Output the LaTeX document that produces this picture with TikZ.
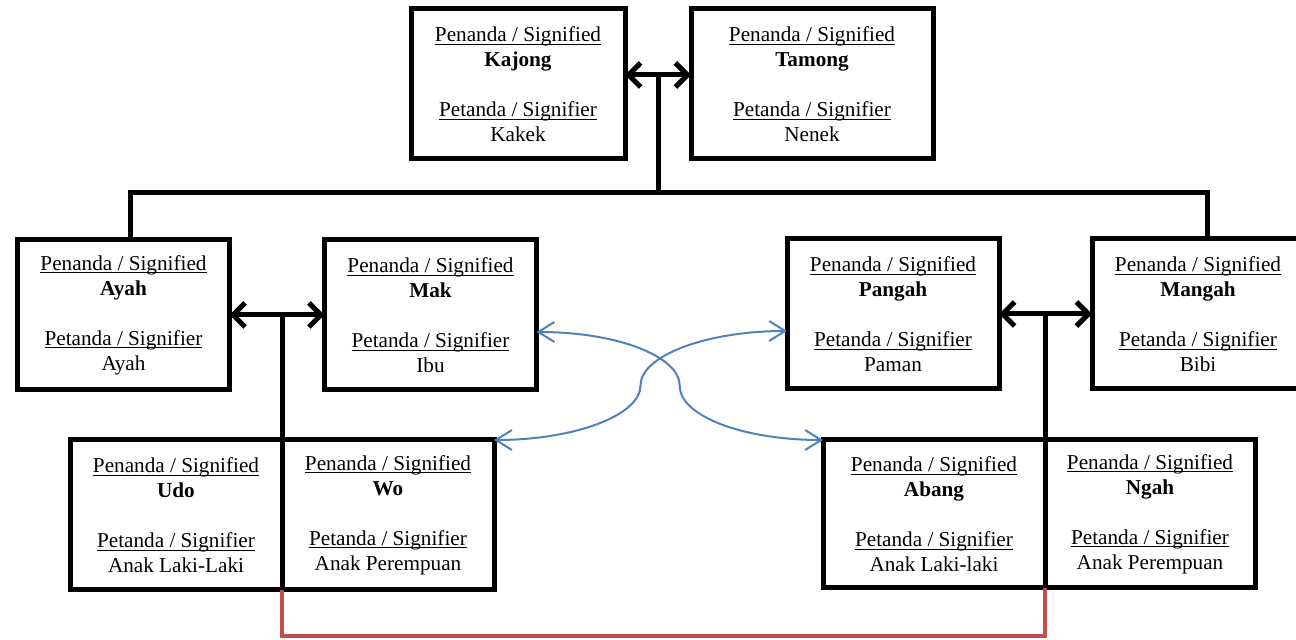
\documentclass[tikz,border=0pt]{standalone}
\usepackage{fontspec}
\setmainfont{Liberation Serif}
\usepackage{xcolor}
\usetikzlibrary{positioning,arrows.meta,calc}

\definecolor{kinblue}{HTML}{4F81BD}
\definecolor{kinred}{HTML}{C0504D}
\newcommand{\sigul}[1]{\setbox0\hbox{#1}\rlap{\rule[-1.6pt]{\wd0}{0.5pt}}\box0}
\newcommand{\sigtext}[2]{\sigul{Penanda / Signified}\\\textbf{#1}\\[12.5pt]\sigul{Petanda / Signifier}\\#2}

\begin{document}
\begin{tikzpicture}[sig node/.style={rectangle,draw,line width=2.5pt,minimum width=106pt,minimum height=75pt,inner sep=0pt,outer sep=0pt,align=center,font=\fontsize{10.6}{12.5}\selectfont},couple/.style={line width=2.5pt,>={Straight Barb[length=6pt,width=12pt]},<->},bond/.style={line width=2.5pt,line join=miter},kin/.style={draw=kinblue,line width=1pt,>={Straight Barb[length=8pt,width=10pt]},<->},sibling/.style={draw=kinred,line width=2pt,line join=miter}]
            \clip (0,0) rectangle (648pt,-320pt);

            \node[sig node,minimum width=107pt] (kajong) at (259pt,-42pt) {\sigtext{Kajong}{Kakek}};
            \node[sig node,minimum width=121pt] (tamong) [right=33pt of kajong] {\sigtext{Tamong}{Nenek}};

            \node[sig node] (ayah) at (61.75pt,-157.5pt) {\sigtext{Ayah}{Ayah}};
            \node[sig node] (mak) [right=47.5pt of ayah] {\sigtext{Mak}{Ibu}};
            \node[sig node] (pangah) at (446.5pt,-157pt) {\sigtext{Pangah}{Paman}};
            \node[sig node] (mangah) [right=46.5pt of pangah] {\sigtext{Mangah}{Bibi}};

            \node[sig node] (udo) at (88pt,-257.5pt) {\sigtext{Udo}{Anak Laki-Laki}};
            \node[sig node] (wo) [right=0pt of udo] {\sigtext{Wo}{Anak Perempuan}};
            \node[sig node,minimum width=111pt,minimum height=74pt] (abang) at (467pt,-257pt) {\sigtext{Abang}{Anak Laki-laki}};
            \node[sig node,minimum width=105pt,minimum height=74pt] (ngah) [right=0pt of abang] {\sigtext{Ngah}{Anak Perempuan}};

            \coordinate (bar) at (0,-96.5pt);
            \draw[couple] ([yshift=4.5pt]kajong.east) -- ([yshift=4.5pt]tamong.west) coordinate[midway] (top);
            \draw[bond] (top) -- (top |- bar);
            \draw[bond] ([xshift=3.25pt]ayah.north) -- ([xshift=3.25pt]ayah.north |- bar) -- ([xshift=4.5pt]mangah.north |- bar) -- ([xshift=4.5pt]mangah.north);

            \draw[couple] (ayah.east) -- (ayah.east -| mak.west);
            \draw[bond] (udo.north east) -- (udo.north east |- ayah.east);
            \draw[couple] (pangah.east) -- (pangah.east -| mangah.west);
            \draw[bond] (abang.north east) -- (abang.north east |- pangah.east);

            \draw[sibling] (udo.south east) -- ++(0,-23pt) -| (abang.south east);

            \coordinate (ibu) at ([yshift=-8.5pt]mak.east);
            \coordinate (paman) at ([yshift=-8.5pt]pangah.west);
            \coordinate (m1) at ($(ibu)!0.5!(abang.north west)$);
            \coordinate (m2) at ($(paman)!0.5!(wo.north east)$);
            \draw[kin] (ibu) .. controls +(40pt,0) and +(0,15pt) .. (m1) .. controls +(0,-15pt) and +(-40pt,0) .. (abang.north west);
            \draw[kin] (paman) .. controls +(-40pt,0) and +(0,15pt) .. (m2) .. controls +(0,-15pt) and +(40pt,0) .. (wo.north east);
        \end{tikzpicture}
\end{document}
